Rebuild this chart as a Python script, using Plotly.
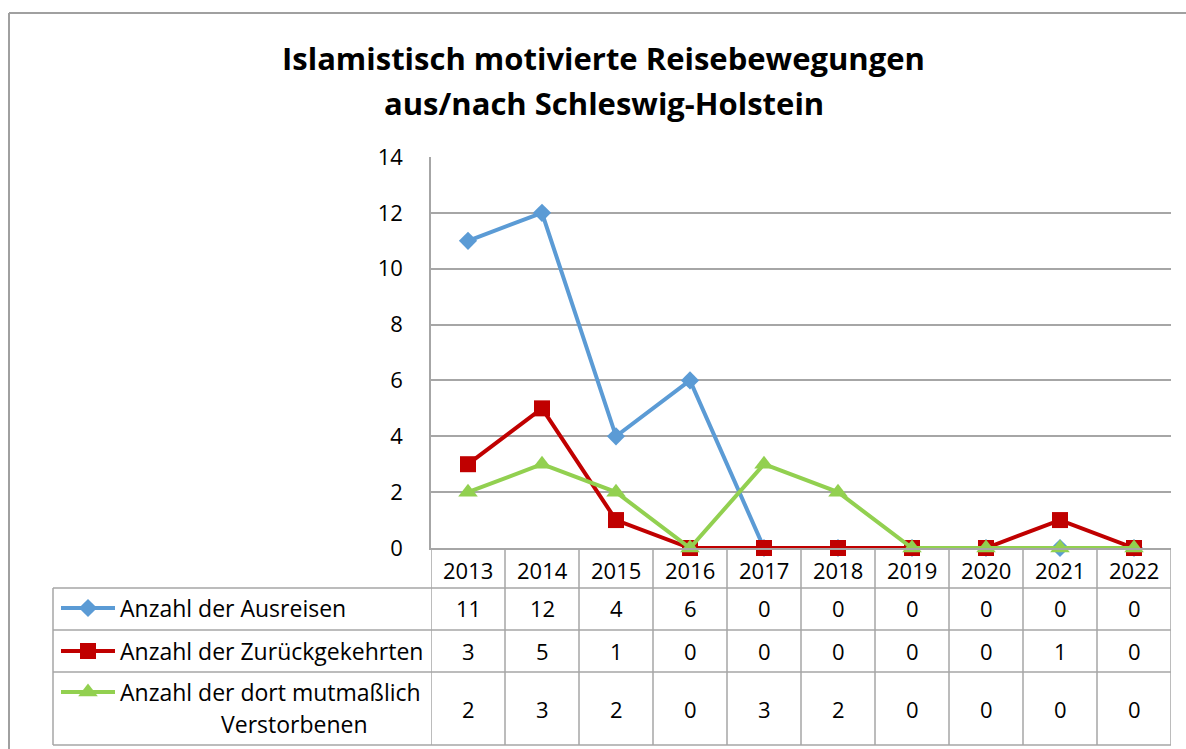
import plotly.graph_objects as go

W, H = 1186, 749

years = ['2013', '2014', '2015', '2016', '2017', '2018', '2019', '2020', '2021', '2022']
ausreisen = [11, 12, 4, 6, 0, 0, 0, 0, 0, 0]
zurueck = [3, 5, 1, 0, 0, 0, 0, 0, 1, 0]
verstorben = [2, 3, 2, 0, 3, 2, 0, 0, 0, 0]

series_names = ['Anzahl der Ausreisen', 'Anzahl der Zurückgekehrten',
                'Anzahl der dort mutmaßlich Verstorbenen']
series_values = [ausreisen, zurueck, verstorben]
colors = ['#5b9bd5', '#c00000', '#92d050']
symbols = ['diamond', 'square', 'triangle-up']
sizes = [14, 16, 17]

FONT = 'Open Sans'
GRID = '#a6a6a6'
BLACK = '#000000'


def px(x):
    return x / W


def py(y):
    return 1 - y / H


# plot area in pixels
L, R, T, B = 431, 1171, 157, 548
# table rows (pixel y)
row_lines = [588, 630, 672, 745]
row_centers = [608, 651, 709]
TABLE_LEFT = 53

fig = go.Figure()

# legend keys inside the table (pixel overlay axes), drawn first so the data sits on top
key_y = [608, 651, 692]
for c, s, sz, ky in zip(colors, symbols, sizes, key_y):
    fig.add_trace(go.Scatter(
        x=[61, 115], y=[ky, ky], mode='lines',
        line=dict(color=c, width=4), xaxis='x2', yaxis='y2',
        showlegend=False, hoverinfo='skip'
    ))
    fig.add_trace(go.Scatter(
        x=[88], y=[ky], mode='markers',
        marker=dict(symbol=s, size=sz, color=c), xaxis='x2', yaxis='y2',
        showlegend=False, hoverinfo='skip'
    ))

for name, vals, c, s, sz in zip(series_names, series_values, colors, symbols, sizes):
    fig.add_trace(go.Scatter(
        x=years, y=vals, mode='lines+markers', name=name,
        line=dict(color=c, width=4),
        marker=dict(symbol=s, size=sz, color=c),
        showlegend=False, cliponaxis=False
    ))

shapes = []
# outer chart frame
shapes.append(dict(type='line', xref='paper', yref='paper', x0=px(9), x1=px(9), y0=py(13), y1=py(H + 5),
                   line=dict(color='#a0a0a0', width=2)))
shapes.append(dict(type='line', xref='paper', yref='paper', x0=px(9), x1=px(W + 5), y0=py(13), y1=py(13),
                   line=dict(color='#a0a0a0', width=2)))
# table horizontal lines
for yl in row_lines:
    shapes.append(dict(type='line', xref='paper', yref='paper', x0=px(TABLE_LEFT), x1=px(R),
                       y0=py(yl), y1=py(yl), line=dict(color=GRID, width=1.5)))
# table left edge
shapes.append(dict(type='line', xref='paper', yref='paper', x0=px(TABLE_LEFT), x1=px(TABLE_LEFT),
                   y0=py(row_lines[0]), y1=py(row_lines[-1]), line=dict(color=GRID, width=1.5)))
# column boundaries
for i in range(len(years) + 1):
    shapes.append(dict(type='line', xref='x', yref='paper', x0=i - 0.5, x1=i - 0.5,
                       y0=py(B), y1=py(row_lines[-1]), line=dict(color=GRID, width=1.5)))


def label(text, x, y, size, xref='paper', xanchor='center', bold=False):
    return dict(text=f'<b>{text}</b>' if bold else text, x=x, y=py(y), xref=xref, yref='paper',
                showarrow=False, xanchor=xanchor, yanchor='middle',
                font=dict(family=FONT, size=size, color=BLACK))


annotations = [
    label('Islamistisch motivierte Reisebewegungen', px(604), 58, 31, bold=True),
    label('aus/nach Schleswig-Holstein', px(604), 103, 31, bold=True),
]
for i, yr in enumerate(years):
    annotations.append(label(yr, i, 570, 22, xref='x'))
for vals, yc in zip(series_values, row_centers):
    for i, v in enumerate(vals):
        annotations.append(label(str(v), i, yc, 22, xref='x'))
# row labels
annotations.append(label(series_names[0], px(118), 608, 23, xanchor='left'))
annotations.append(label(series_names[1], px(118), 651, 23, xanchor='left'))
annotations.append(label('Anzahl der dort mutmaßlich', px(118), 692, 23, xanchor='left'))
annotations.append(label('Verstorbenen', px(294), 724, 23))

fig.update_layout(
    template='none',
    width=W, height=H,
    margin=dict(l=0, r=0, t=0, b=0, autoexpand=False),
    paper_bgcolor='white', plot_bgcolor='rgba(0,0,0,0)',
    font=dict(family=FONT, color=BLACK),
    showlegend=False,
    xaxis=dict(domain=[px(L), px(R)], type='category', range=[-0.5, 9.5], automargin=False,
               showticklabels=False, showgrid=False, zeroline=False,
               showline=True, linecolor=GRID, linewidth=1.5, ticks=''),
    yaxis=dict(domain=[py(B), py(T)], range=[0, 14], dtick=2, automargin=False,
               showgrid=True, gridcolor=GRID, gridwidth=1.5, zeroline=False,
               showline=True, linecolor=GRID, linewidth=1.5, ticks='',
               tickfont=dict(family=FONT, size=22, color=BLACK), ticklabelstandoff=22),
    xaxis2=dict(domain=[0, 1], range=[0, W], visible=False, fixedrange=True, anchor='y2', automargin=False),
    yaxis2=dict(domain=[0, 1], range=[H, 0], visible=False, fixedrange=True, anchor='x2', automargin=False),
    shapes=shapes,
    annotations=annotations,
)

fig.write_html('out.html', config={'displayModeBar': False},
               post_script="document.body.style.margin='0';")
